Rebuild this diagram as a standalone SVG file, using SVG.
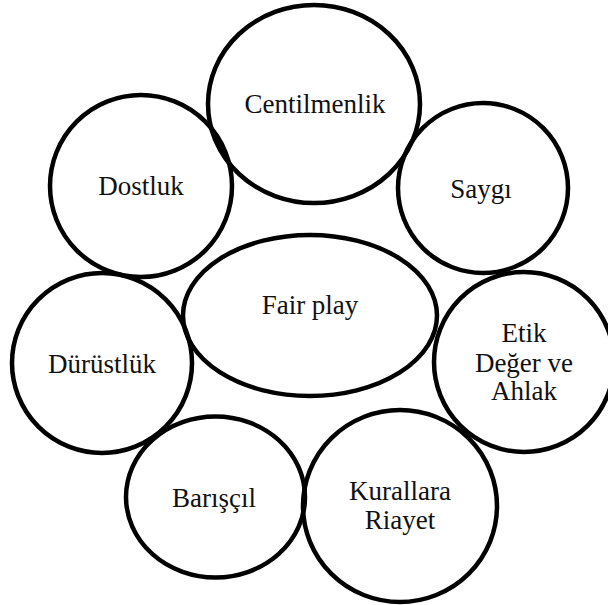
<svg xmlns="http://www.w3.org/2000/svg" width="608" height="605" viewBox="0 0 608 605">
<style>
.s{fill:none;stroke:#000;stroke-width:4.5}
.t{font-family:"Liberation Serif","Times New Roman",serif;font-size:27px;fill:#111;text-anchor:middle}
</style>
<rect width="608" height="605" fill="#fff"/>
<g id="connectors"/>
<g id="centilmenlik"><ellipse class="s" cx="314" cy="104" rx="106" ry="99"/><text class="t" x="315" y="113">Centilmenlik</text></g>
<g id="dostluk"><circle class="s" cx="141" cy="186" r="91"/><text class="t" x="141" y="195">Dostluk</text></g>
<g id="saygi"><circle class="s" cx="483" cy="188" r="85"/><text class="t" x="481" y="198">Saygı</text></g>
<g id="fairplay"><ellipse class="s" cx="310" cy="315.5" rx="127" ry="80.5"/><text class="t" x="310" y="314">Fair play</text></g>
<g id="durustluk"><circle class="s" cx="102" cy="363" r="90"/><text class="t" x="102" y="373">Dürüstlük</text></g>
<g id="etik"><circle class="s" cx="524" cy="362" r="90"/><text class="t" x="524" y="342">Etik</text><text class="t" x="524" y="372">Değer ve</text><text class="t" x="524" y="400">Ahlak</text></g>
<g id="barriscil"><ellipse class="s" cx="215.5" cy="497" rx="89.5" ry="80.5"/><text class="t" x="214" y="507">Barışçıl</text></g>
<g id="kurallara"><ellipse class="s" cx="400" cy="506" rx="97" ry="96"/><text class="t" x="400" y="500">Kurallara</text><text class="t" x="400" y="529">Riayet</text></g>
</svg>
